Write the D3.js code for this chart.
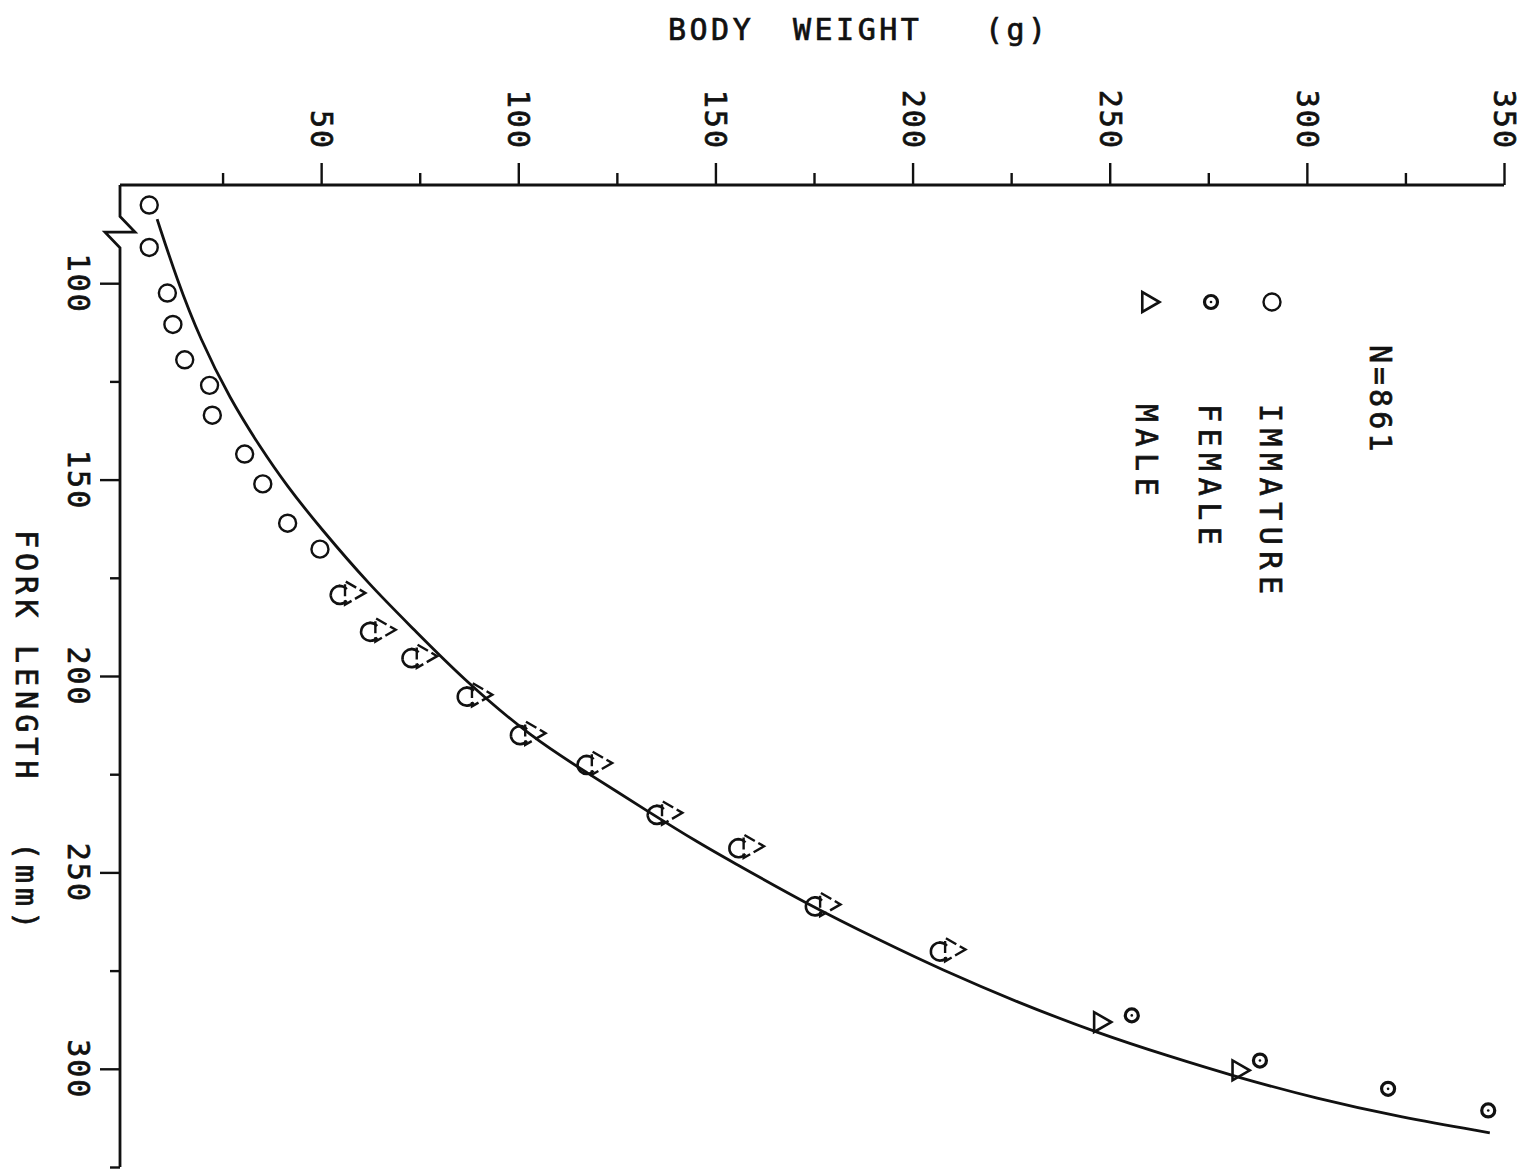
<!DOCTYPE html>
<html>
<head>
<meta charset="utf-8">
<script src="https://cdn.jsdelivr.net/npm/d3@7"></script>
<style>
  body { margin: 0; background: #fff; }
  svg { display: block; }
  text { font-family: "DejaVu Sans Mono", monospace; fill: #111; stroke: #111; stroke-width: 0.7px; }
</style>
</head>
<body>
<div id="chart"></div>
<script>
// page is turned on its side: weight runs across the top, fork length runs down
const weightTicks = [50, 100, 150, 200, 250, 300, 350];
const weightMinor = [25, 75, 125, 175, 225, 275, 325];
const lengthTicks = [100, 150, 200, 250, 300];
const lengthMinor = [125, 175, 225, 275, 325];

const immatureLength = [80.1, 90.9, 102.5, 110.5, 119.5, 126.0, 133.6, 143.5, 151.1, 161.1, 167.7];
const immatureWeight = [6.4, 6.4, 11.0, 12.4, 15.4, 21.7, 22.4, 30.6, 35.2, 41.5, 49.7];

// immature + male marks printed on top of each other
const mixedLength = [179.1, 188.5, 195.2, 205.0, 214.8, 222.4, 235.1, 243.6, 258.4, 269.9];
const mixedWeight = [56.0, 63.7, 74.2, 88.2, 101.7, 118.6, 136.4, 157.1, 176.5, 208.2];

const maleLength = [288.1, 300.4];
const maleWeight = [247.5, 282.6];

const femaleLength = [286.4, 297.9, 305.1, 310.6];
const femaleWeight = [255.6, 288.1, 320.6, 346.0];

// fitted curve
const fitLength = [83.7, 99.0, 114.2, 129.5, 141.7, 151.6, 162.2, 177.0, 188.0, 200.8, 216.0, 224.5,
  234.3, 242.7, 247.0, 258.0, 267.7, 274.6, 283.0, 291.1, 296.6, 302.1, 307.6, 312.3, 316.3];
const fitWeight = [8.4, 13.4, 19.3, 26.9, 34.5, 41.3, 49.7, 62.4, 73.4, 86.0, 103.8, 117.3,
  132.6, 146.1, 153.7, 173.1, 192.5, 207.0, 226.4, 247.5, 264.4, 282.2, 302.5, 323.6, 346.4];

const legendNames = ["IMMATURE", "FEMALE", "MALE"];

const width = 1530, height = 1173;
const axisX = 120, axisY = 185;

const svg = d3.select("#chart").append("svg")
  .attr("width", width)
  .attr("height", height);

const x = d3.scaleLinear().domain([0, 350]).range([124, 1504]);
const y = d3.scaleLinear().domain([75, 325]).range([185, 1167]);

const ink = "#111";

// top axis (body weight)
const topAxis = svg.append("g").attr("transform", `translate(0,${axisY})`);
topAxis.append("line")
  .attr("x1", axisX).attr("x2", x(350))
  .attr("stroke", ink).attr("stroke-width", 2.8);

const topMajor = topAxis.append("g")
  .call(d3.axisTop(x).tickValues(weightTicks).tickSize(22).tickSizeOuter(0));
topMajor.select(".domain").remove();
topMajor.selectAll("line").attr("stroke", ink).attr("stroke-width", 2.4);
topMajor.selectAll("text")
  .attr("transform", "rotate(90)")
  .attr("x", -35).attr("y", 0).attr("dy", null)
  .attr("text-anchor", "end")
  .attr("dominant-baseline", "central")
  .style("font-size", "30px")
  .style("letter-spacing", "2px")
  .attr("fill", ink);

const topMinor = topAxis.append("g")
  .call(d3.axisTop(x).tickValues(weightMinor).tickSize(12).tickSizeOuter(0).tickFormat(""));
topMinor.select(".domain").remove();
topMinor.selectAll("line").attr("stroke", ink).attr("stroke-width", 2.4);

// left axis (fork length) with a break near the top
const leftAxis = svg.append("g").attr("transform", `translate(${axisX},0)`);
const brk = [
  [0, y(75)], [0, y(83)], [15, y(87)], [-15, y(87)], [0, y(91)], [0, y(325)]
];
leftAxis.append("path")
  .attr("d", d3.line()(brk))
  .attr("fill", "none").attr("stroke", ink).attr("stroke-width", 2.8)
  .attr("stroke-linejoin", "miter");

const leftMajor = leftAxis.append("g")
  .call(d3.axisLeft(y).tickValues(lengthTicks).tickSize(20).tickSizeOuter(0));
leftMajor.select(".domain").remove();
leftMajor.selectAll("line").attr("stroke", ink).attr("stroke-width", 2.4);
leftMajor.selectAll("text")
  .attr("transform", "rotate(90)")
  .attr("x", 0).attr("y", 42).attr("dy", null)
  .attr("text-anchor", "middle")
  .attr("dominant-baseline", "central")
  .style("font-size", "30px")
  .style("letter-spacing", "2px")
  .attr("fill", ink);

const leftMinor = leftAxis.append("g")
  .call(d3.axisLeft(y).tickValues(lengthMinor).tickSize(10).tickSizeOuter(0).tickFormat(""));
leftMinor.select(".domain").remove();
leftMinor.selectAll("line").attr("stroke", ink).attr("stroke-width", 2.4);

// axis titles
const titleWords = [["BODY", 668], ["WEIGHT", 793], ["(g)", 985]];
svg.append("g").selectAll("text")
  .data(titleWords)
  .join("text")
  .attr("x", d => d[1]).attr("y", 40)
  .style("font-size", "30px")
  .style("letter-spacing", "3.5px")
  .text(d => d[0]);

const sideWords = [["FORK", 530], ["LENGTH", 645], ["(mm)", 842]];
svg.append("g").selectAll("text")
  .data(sideWords)
  .join("text")
  .attr("transform", d => `translate(26,${d[1]}) rotate(90)`)
  .attr("dominant-baseline", "central")
  .style("font-size", "30px")
  .style("letter-spacing", "5px")
  .text(d => d[0]);

// fitted curve
const fit = fitLength.map((l, i) => ({ l, w: fitWeight[i] }));
svg.append("path")
  .datum(fit)
  .attr("d", d3.line().x(d => x(d.w)).y(d => y(d.l)).curve(d3.curveBasis))
  .attr("fill", "none").attr("stroke", ink).attr("stroke-width", 2.8);

const tri = d3.symbol().type(d3.symbolTriangle).size(170);
const triBig = d3.symbol().type(d3.symbolTriangle).size(240);

// immature
svg.append("g").selectAll("circle")
  .data(immatureLength.map((l, i) => ({ l, w: immatureWeight[i] })))
  .join("circle")
  .attr("cx", d => x(d.w)).attr("cy", d => y(d.l)).attr("r", 8.5)
  .attr("fill", "none").attr("stroke", ink).attr("stroke-width", 2.4);

// overlapping immature + male: an open "C" with a triangle pointing right
const cArc = d3.arc().innerRadius(9).outerRadius(9)
  .startAngle(Math.PI * 0.72).endAngle(Math.PI * 2.28);
const mixed = svg.append("g").selectAll("g")
  .data(mixedLength.map((l, i) => ({ l, w: mixedWeight[i] })))
  .join("g")
  .attr("transform", d => `translate(${x(d.w)},${y(d.l)})`);
mixed.append("path")
  .attr("d", cArc()).attr("transform", "translate(-5,1)")
  .attr("fill", "none").attr("stroke", ink).attr("stroke-width", 2.6)
  .attr("stroke-dasharray", "18 3");
mixed.append("path")
  .attr("d", triBig).attr("transform", "translate(7,-1) rotate(90)")
  .attr("fill", "none").attr("stroke", ink).attr("stroke-width", 2.4)
  .attr("stroke-dasharray", "12 4");

// male
svg.append("g").selectAll("path")
  .data(maleLength.map((l, i) => ({ l, w: maleWeight[i] })))
  .join("path")
  .attr("d", tri)
  .attr("transform", d => `translate(${x(d.w)},${y(d.l)}) rotate(90)`)
  .attr("fill", "none").attr("stroke", ink).attr("stroke-width", 2.6);

// female
const fem = svg.append("g").selectAll("g")
  .data(femaleLength.map((l, i) => ({ l, w: femaleWeight[i] })))
  .join("g")
  .attr("transform", d => `translate(${x(d.w)},${y(d.l)})`);
fem.append("circle").attr("r", 6.5).attr("fill", "none").attr("stroke", ink).attr("stroke-width", 3.2);
fem.append("circle").attr("r", 1.3).attr("fill", ink);

// legend
const legend = svg.append("g");
legend.append("text")
  .attr("transform", "translate(1380,345) rotate(90)")
  .attr("dominant-baseline", "central")
  .style("font-size", "30px").style("letter-spacing", "4px")
  .text("N=861");

const legendX = [1270, 1209, 1146];
legend.selectAll(".lbl")
  .data(legendNames)
  .join("text")
  .attr("class", "lbl")
  .attr("transform", (d, i) => `translate(${legendX[i]},404) rotate(90)`)
  .attr("dominant-baseline", "central")
  .style("font-size", "30px").style("letter-spacing", "6.5px")
  .text(d => d);

legend.append("circle").attr("cx", legendX[0] + 2).attr("cy", 302).attr("r", 8.5)
  .attr("fill", "none").attr("stroke", ink).attr("stroke-width", 2.4);
legend.append("circle").attr("cx", legendX[1] + 2).attr("cy", 302).attr("r", 6.5)
  .attr("fill", "none").attr("stroke", ink).attr("stroke-width", 3.2);
legend.append("circle").attr("cx", legendX[1] + 2).attr("cy", 302).attr("r", 1.3).attr("fill", ink);
legend.append("path").attr("d", tri)
  .attr("transform", `translate(${legendX[2] + 2},302) rotate(90)`)
  .attr("fill", "none").attr("stroke", ink).attr("stroke-width", 2.6);
</script>
</body>
</html>
